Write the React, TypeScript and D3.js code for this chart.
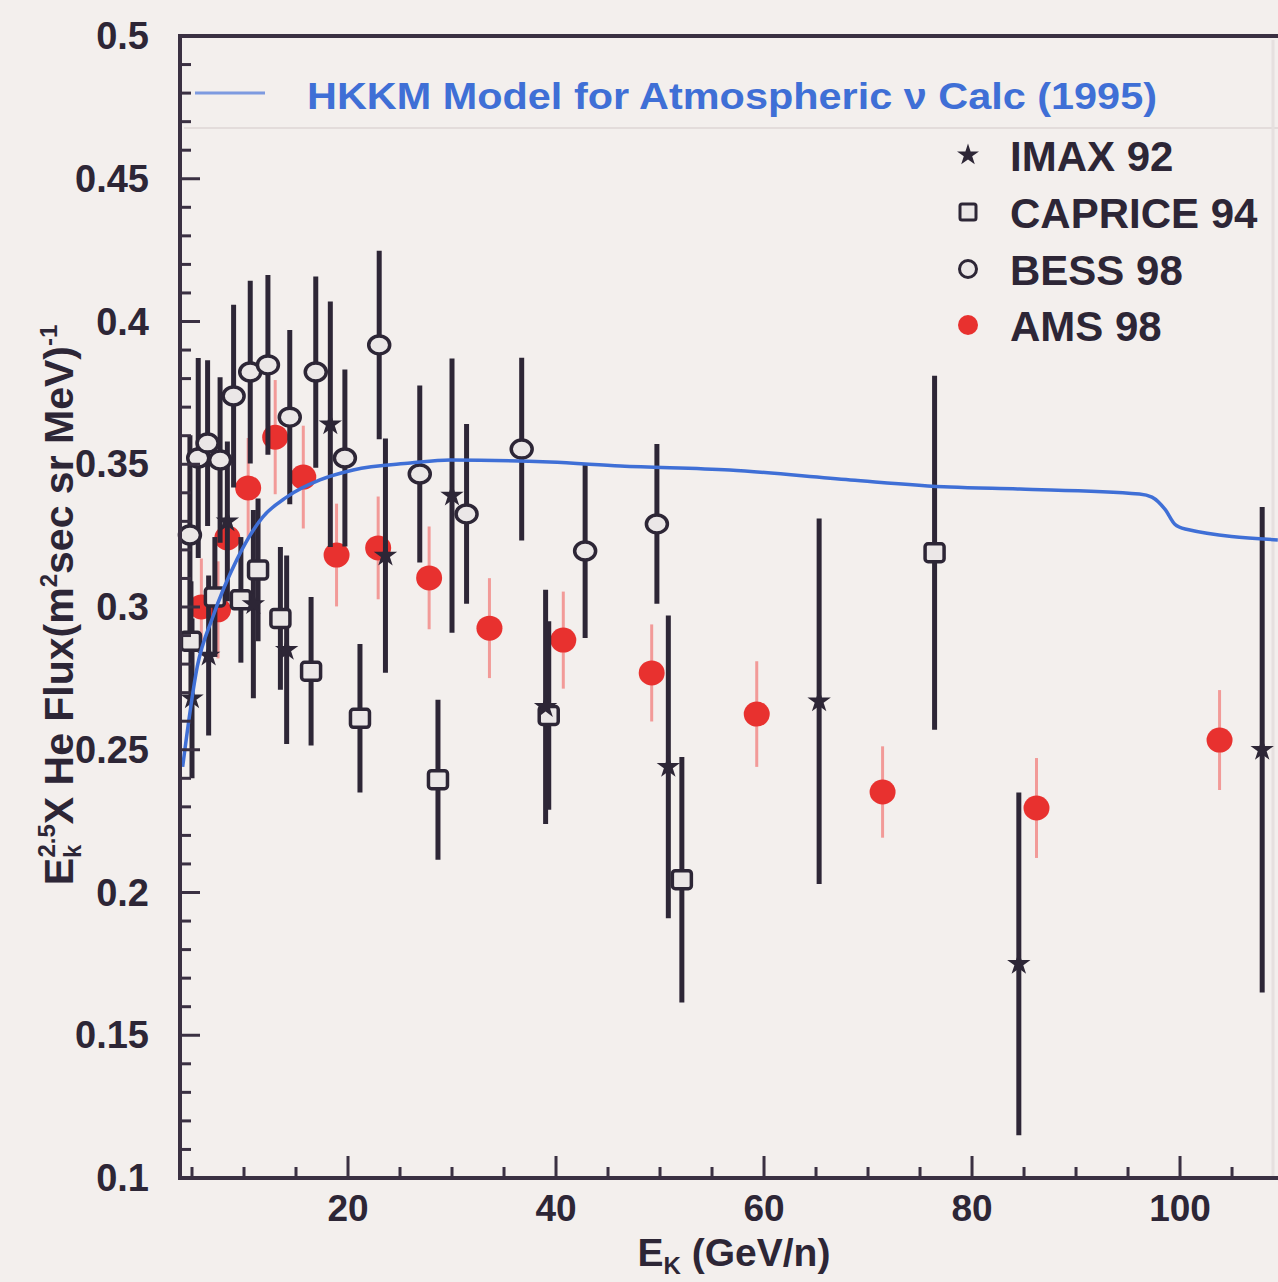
import React from "react";
import * as d3 from "d3";

// ---------- data ----------
const hkkmX = [4.1, 5.5, 7.0, 9.3, 11.8, 14.1, 17.3, 20.5, 26.0, 29.8, 39.4, 46.2, 56.7, 68.3, 77.9, 84.6, 96.1, 97.3, 98.6, 99.5, 100.5, 109.4];
const hkkmY = [0.244, 0.279, 0.2965, 0.3165, 0.3315, 0.3385, 0.3445, 0.348, 0.3504, 0.3515, 0.3508, 0.3494, 0.348, 0.3445, 0.342, 0.3413, 0.3396, 0.3385, 0.334, 0.329, 0.3273, 0.3235];

const imaxX = [5.0, 6.6, 8.4, 10.9, 14.1, 18.3, 23.6, 30.0, 39.0, 50.8, 65.3, 84.5, 107.9];
const imaxY = [0.268, 0.283, 0.330, 0.301, 0.285, 0.364, 0.318, 0.339, 0.265, 0.244, 0.267, 0.175, 0.250];
const imaxErr = [0.028, 0.028, 0.028, 0.033, 0.033, 0.043, 0.041, 0.048, 0.041, 0.053, 0.064, 0.060, 0.085];

const capriceX = [4.9, 7.2, 9.7, 11.35, 13.5, 16.45, 21.15, 28.65, 39.3, 52.1, 76.4];
const capriceY = [0.288, 0.3035, 0.3025, 0.313, 0.296, 0.2775, 0.261, 0.2395, 0.262, 0.2045, 0.319];
const capriceErr = [0.021, 0.021, 0.022, 0.025, 0.025, 0.026, 0.026, 0.028, 0.033, 0.043, 0.062];

const bessX = [4.8, 5.6, 6.5, 7.7, 9.0, 10.6, 12.3, 14.4, 16.9, 19.7, 23.0, 26.9, 31.4, 36.7, 42.8, 49.7];
const bessY = [0.3252, 0.3522, 0.3574, 0.3515, 0.3739, 0.3823, 0.3848, 0.3665, 0.3823, 0.3522, 0.3918, 0.3466, 0.3326, 0.3553, 0.3196, 0.3291];
const bessErr = [0.035, 0.035, 0.029, 0.029, 0.032, 0.032, 0.0315, 0.0305, 0.0335, 0.031, 0.033, 0.031, 0.0315, 0.032, 0.0305, 0.028];

const amsX = [5.9, 7.5, 8.4, 10.4, 13.0, 15.7, 18.9, 22.9, 27.8, 33.6, 40.7, 49.2, 59.3, 71.4, 86.2, 103.8];
const amsY = [0.300, 0.299, 0.3242, 0.3417, 0.3595, 0.3455, 0.3182, 0.3207, 0.3102, 0.2926, 0.2884, 0.2769, 0.2625, 0.2352, 0.2296, 0.2534];
const amsErr = [0.017, 0.017, 0.018, 0.0175, 0.02, 0.018, 0.018, 0.018, 0.018, 0.0175, 0.017, 0.017, 0.0185, 0.016, 0.0175, 0.0175];

const xMajorTicks = [20, 40, 60, 80, 100];
const yMajorTicks = [0.1, 0.15, 0.2, 0.25, 0.3, 0.35, 0.4, 0.45, 0.5];
const yTickLabels = ["0.1", "0.15", "0.2", "0.25", "0.3", "0.35", "0.4", "0.45", "0.5"];
const legendLabels = ["IMAX 92", "CAPRICE 94", "BESS 98", "AMS 98"];
const modelLabel = "HKKM Model for Atmospheric \u03bd Calc (1995)";

// ---------- layout ----------
const W = 1278;
const H = 1282;
const left = 180;
const right = 1278;
const top = 36;
const bottom = 1178;

const BG = "#f3efed";
const INK = "#2d2636";
const AXIS = "#3a3042";
const BLUE = "#3f6fd6";
const RED = "#e8312f";
const RED_BAR = "#f29a98";
const FONT = "'Liberation Sans', Arial, Helvetica, sans-serif";

export default function App() {
  const x = d3.scaleLinear().domain([3.846, 109.42]).range([left, right]);
  const y = d3.scaleLinear().domain([0.1, 0.5]).range([bottom, top]);

  const xMinor = d3.range(5, 110, 5).filter((v) => !xMajorTicks.includes(v));
  const yMinor = d3.range(10, 50).map((v) => v / 100).filter((v) => Math.round(v * 100) % 5 !== 0);

  const line = d3
    .line<number>()
    .x((_, i) => x(hkkmX[i]))
    .y((d) => y(d))
    .curve(d3.curveMonotoneX);

  const starPath = d3.symbol().type(d3.symbolStar).size(170)()!;
  const starLegend = d3.symbol().type(d3.symbolStar).size(150)()!;

  const legendRows = [155, 212, 269, 325];

  return (
    <svg width={W} height={H} style={{ display: "block", position: "absolute", left: 0, top: 0, background: BG }} fontFamily={FONT}>
      <rect x={0} y={0} width={W} height={H} fill={BG} />

      {/* faint legend box line */}
      <line x1={184} x2={W} y1={128} y2={128} stroke="#e3dcdb" strokeWidth={2} />
      <line x1={1273} x2={1273} y1={40} y2={bottom} stroke="#e6e0df" strokeWidth={3} />

      {/* AMS error bars & points */}
      <g>
        {amsX.map((v, i) => (
          <line key={"ae" + i} x1={x(v)} x2={x(v)} y1={y(amsY[i] - amsErr[i])} y2={y(amsY[i] + amsErr[i])} stroke={RED_BAR} strokeWidth={3} />
        ))}
        {amsX.map((v, i) => (
          <ellipse key={"ap" + i} cx={x(v)} cy={y(amsY[i])} rx={13} ry={12.5} fill={RED} />
        ))}
      </g>

      {/* black error bars */}
      <g stroke={INK} strokeWidth={5}>
        {bessX.map((v, i) => (
          <line key={"be" + i} x1={x(v)} x2={x(v)} y1={y(bessY[i] - bessErr[i])} y2={y(bessY[i] + bessErr[i])} />
        ))}
        {capriceX.map((v, i) => (
          <line key={"ce" + i} x1={x(v)} x2={x(v)} y1={y(capriceY[i] - capriceErr[i])} y2={y(capriceY[i] + capriceErr[i])} />
        ))}
        {imaxX.map((v, i) => (
          <line key={"ie" + i} x1={x(v)} x2={x(v)} y1={y(imaxY[i] - imaxErr[i])} y2={y(imaxY[i] + imaxErr[i])} />
        ))}
      </g>

      {/* markers */}
      <g>
        {bessX.map((v, i) => (
          <ellipse key={"bp" + i} cx={x(v)} cy={y(bessY[i])} rx={10.5} ry={9} fill="#ebe7e7" stroke={INK} strokeWidth={3.5} />
        ))}
        {capriceX.map((v, i) => (
          <rect key={"cp" + i} x={x(v) - 9.5} y={y(capriceY[i]) - 9} width={19} height={18} rx={3} fill="#ebe7e7" stroke={INK} strokeWidth={3.5} />
        ))}
        {imaxX.map((v, i) => (
          <path key={"ip" + i} d={starPath} transform={`translate(${x(v)},${y(imaxY[i])})`} fill={INK} />
        ))}
      </g>

      {/* HKKM model line */}
      <path d={line(hkkmY)!} fill="none" stroke={BLUE} strokeWidth={3.5} />

      {/* frame */}
      <line x1={left} x2={right} y1={top} y2={top} stroke={AXIS} strokeWidth={4} />
      <line x1={left} x2={left} y1={top - 2} y2={bottom + 2} stroke={AXIS} strokeWidth={4} />
      <line x1={left - 2} x2={right} y1={bottom} y2={bottom} stroke={AXIS} strokeWidth={4} />

      {/* ticks */}
      <g stroke={AXIS} strokeWidth={3}>
        {yMajorTicks.map((v) => (
          <line key={"ym" + v} x1={left} x2={left + 20} y1={y(v)} y2={y(v)} />
        ))}
        {yMinor.map((v) => (
          <line key={"yn" + v} x1={left} x2={left + 11} y1={y(v)} y2={y(v)} />
        ))}
        {xMajorTicks.map((v) => (
          <line key={"xm" + v} x1={x(v)} x2={x(v)} y1={bottom} y2={bottom - 22} />
        ))}
        {xMinor.map((v) => (
          <line key={"xn" + v} x1={x(v)} x2={x(v)} y1={bottom} y2={bottom - 11} />
        ))}
      </g>

      {/* tick labels */}
      <g fill={INK} fontWeight="bold" fontSize={38}>
        {yMajorTicks.map((v, i) => (
          <text key={"yl" + v} x={149} y={y(v) + 13} textAnchor="end">
            {yTickLabels[i]}
          </text>
        ))}
        {xMajorTicks.map((v) => (
          <text key={"xl" + v} x={x(v)} y={1221} fontSize={37} textAnchor="middle">
            {v}
          </text>
        ))}
      </g>

      {/* x axis title */}
      <text x={734} y={1266} textAnchor="middle" fill={INK} fontWeight="bold" fontSize={39}>
        E<tspan fontSize={24} dy={8}>K</tspan>
        <tspan dy={-8}> (GeV/n)</tspan>
      </text>

      {/* y axis title */}
      <text transform="translate(73,605) rotate(-90)" textAnchor="middle" fill={INK} fontWeight="bold" fontSize={41}>
        E<tspan fontSize={24} dy={8}>k</tspan>
        <tspan fontSize={24} dx={-13} dy={-26}>2.5</tspan>
        <tspan dy={18}>X He Flux(m</tspan>
        <tspan fontSize={24} dy={-16}>2</tspan>
        <tspan dy={16}>sec sr MeV)</tspan>
        <tspan fontSize={24} dy={-16}>-1</tspan>
      </text>

      {/* model legend */}
      <line x1={195} x2={265} y1={93} y2={93} stroke="#7d9ae0" strokeWidth={3} />
      <text x={307} y={109} fill={BLUE} fontWeight="bold" fontSize={37} textLength={850} lengthAdjust="spacingAndGlyphs">
        {modelLabel}
      </text>

      {/* data legend */}
      <g>
        <path d={starLegend} transform={`translate(968,${legendRows[0]})`} fill={INK} />
        <rect x={960} y={legendRows[1] - 8} width={16} height={16} rx={2} fill="#ebe7e7" stroke={INK} strokeWidth={3} />
        <ellipse cx={968} cy={legendRows[2]} rx={8.5} ry={8.5} fill="#ebe7e7" stroke={INK} strokeWidth={3} />
        <circle cx={968} cy={legendRows[3]} r={10} fill={RED} />
        {legendLabels.map((t, i) => (
          <text key={t} x={1010} y={legendRows[i] + 16} fill={INK} fontWeight="bold" fontSize={42}>
            {t}
          </text>
        ))}
      </g>
    </svg>
  );
}
